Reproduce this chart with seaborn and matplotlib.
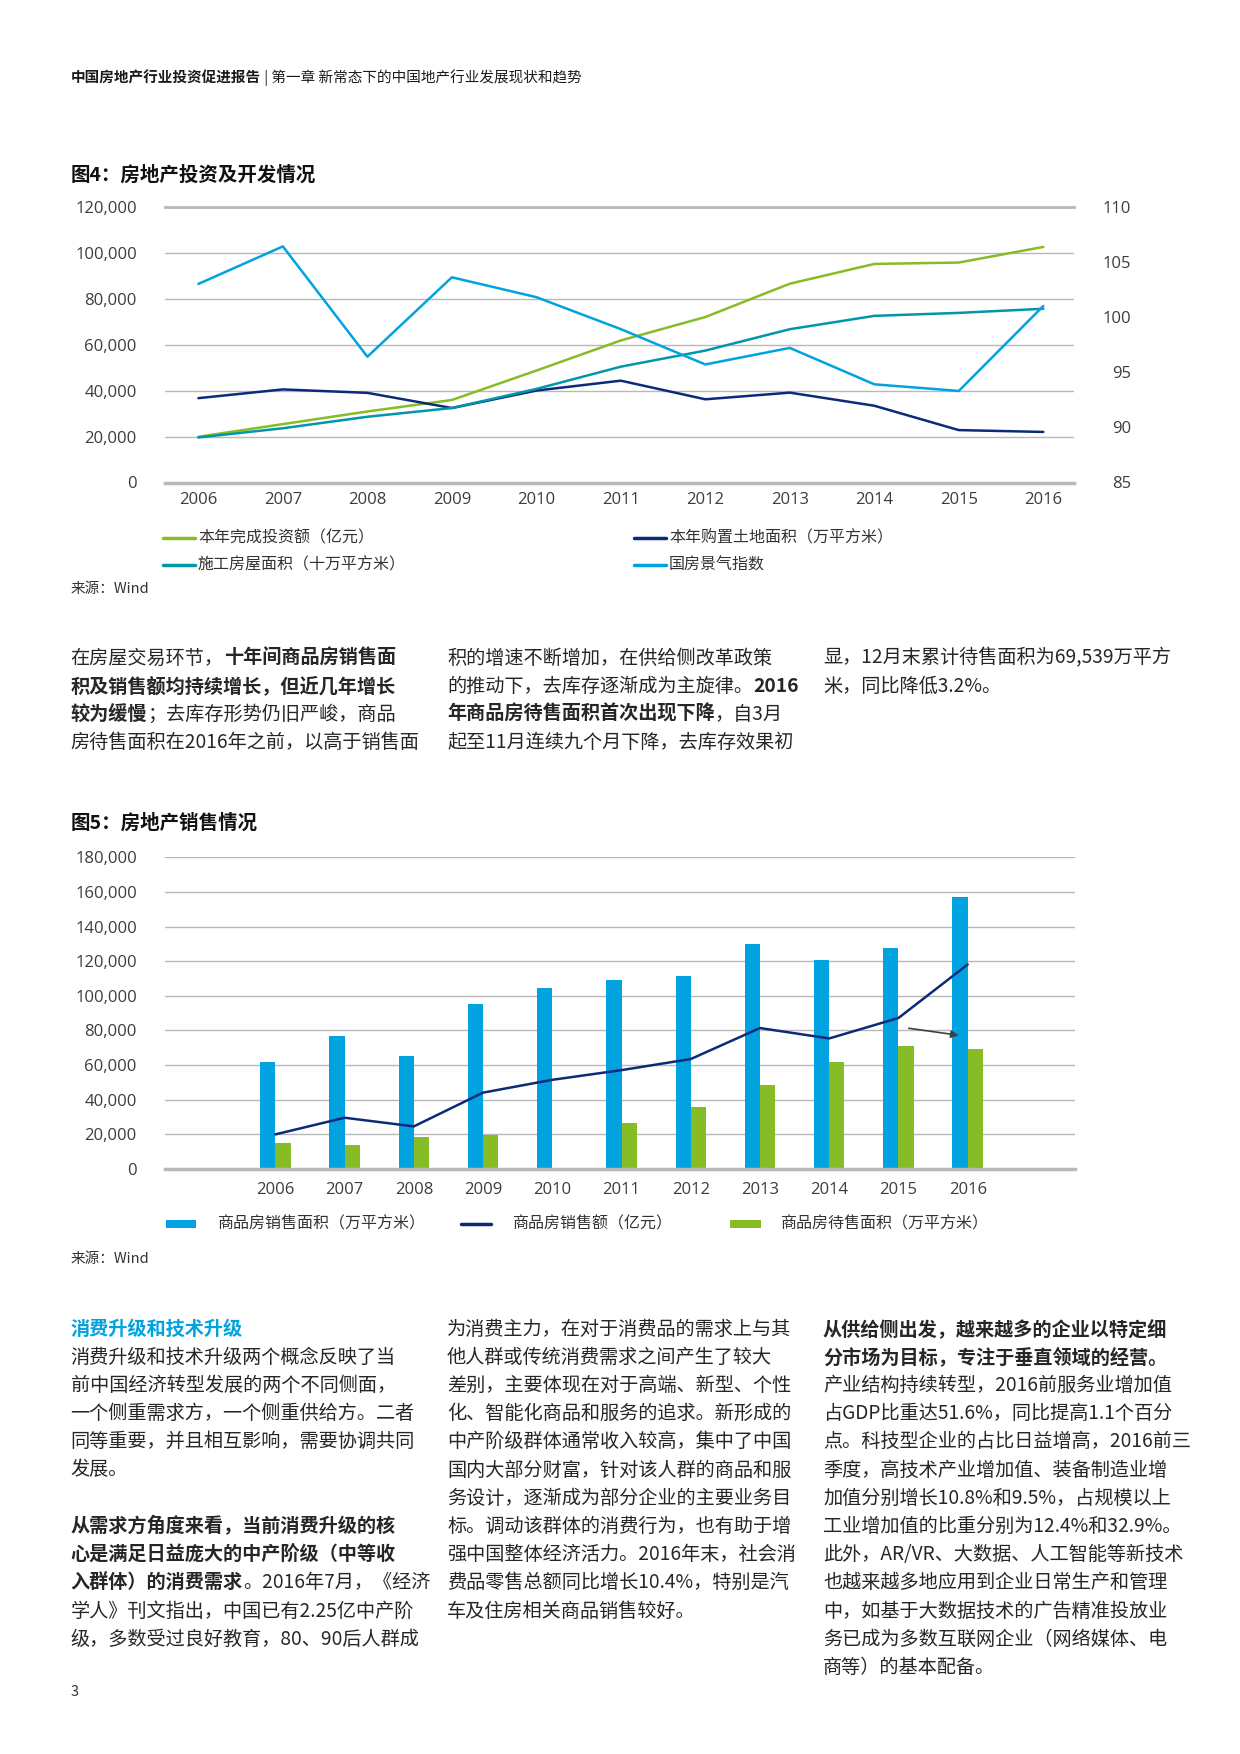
import numpy as np
import pandas as pd
import matplotlib
matplotlib.use("Agg")
import matplotlib.pyplot as plt
import seaborn as sns
from matplotlib.lines import Line2D
from matplotlib.patches import Rectangle
from matplotlib.ticker import FuncFormatter

# ---- data ----
years = list(range(2006, 2017))

# Figure 4 (left axis)
invest = [19900, 25400, 30900, 35900, 48700, 61800, 72000, 86500, 95100, 95700, 102500]
land = [36700, 40500, 39000, 32400, 40000, 44300, 36200, 39100, 33400, 22800, 22000]
construct = [19600, 23600, 28600, 32400, 40700, 50400, 57400, 66700, 72500, 73800, 75600]
# Figure 4 (right axis)
climate = [103.0, 106.4, 96.4, 103.6, 101.8, 98.9, 95.7, 97.2, 93.9, 93.3, 101.0]

# Figure 5
sales_area = [61900, 77000, 65400, 95000, 104300, 108900, 111200, 129800, 120500, 127500, 157000]
sales_amount = [20000, 29600, 24600, 44100, 51500, 57100, 63500, 81400, 75400, 87200, 118100]
unsold_area = [14900, 13800, 18300, 19400, np.nan, 26600, 35700, 48600, 61900, 71200, 69500]

fig4_labels = ["本年完成投资额（亿元）", "本年购置土地面积（万平方米）",
               "施工房屋面积（十万平方米）", "国房景气指数"]
fig5_labels = ["商品房销售面积（万平方米）", "商品房销售额（亿元）", "商品房待售面积（万平方米）"]

# colours
GREEN = "#86bc25"
NAVY = "#0b2a78"
TEAL = "#0097a9"
BLUE = "#00a3e0"
GRID = "#b8b8b8"
TICK = "#3c3c3c"
TEXT = "#262626"

sns.set_theme(style="white")
plt.rcParams["font.family"] = ["Noto Sans CJK SC", "DejaVu Sans"]

W, H = 1240, 1754
fig = plt.figure(figsize=(W / 100, H / 100), dpi=100)
rend = fig.canvas.get_renderer()


def box(l, t, r, b):
    # pixel box (from top-left) -> figure fraction rect
    return [l / W, 1 - b / H, (r - l) / W, (b - t) / H]


def put(x, y, runs, size=13.8, color=TEXT):
    # draw a line made of (text, bold) runs one after another
    for s, bold in runs:
        t = fig.text(x / W, 1 - y / H, s, fontsize=size, color=color,
                     fontweight="bold" if bold else "normal", va="center", ha="left")
        x += t.get_window_extent(rend).width


def leg_line(x0, x1, y, color, lw=2.5):
    fig.add_artist(Line2D([x0 / W, x1 / W], [1 - y / H, 1 - y / H], color=color, lw=lw,
                          transform=fig.transFigure))


def leg_rect(x0, x1, y, h, color):
    fig.add_artist(Rectangle((x0 / W, 1 - (y + h / 2) / H), (x1 - x0) / W, h / H,
                             color=color, lw=0, transform=fig.transFigure))


comma = FuncFormatter(lambda v, p: f"{v:,.0f}")

# ---- header ----
put(70.6, 78, [("中国房地产行业投资促进报告", True), (" | 第一章 新常态下的中国地产行业发展现状和趋势", False)],
    size=10.5, color="#1a1a1a")

# ---- Figure 4 ----
put(70.6, 175, [("图4：房地产投资及开发情况", True)], size=14, color="#111111")

ax4 = fig.add_axes(box(164.6, 206.7, 1074.3, 482.5))
df4 = pd.DataFrame({"年份": years, "invest": invest, "land": land, "construct": construct,
                    "climate": climate})
sns.lineplot(data=df4, x="年份", y="invest", color=GREEN, lw=1.8, ax=ax4)
sns.lineplot(data=df4, x="年份", y="land", color=NAVY, lw=1.8, ax=ax4)
sns.lineplot(data=df4, x="年份", y="construct", color=TEAL, lw=1.8, ax=ax4)
ax4r = ax4.twinx()
sns.lineplot(data=df4, x="年份", y="climate", color=BLUE, lw=1.8, ax=ax4r)

ax4.set_xlim(2006 - 0.40, 2016 + 0.367)
ax4.set_ylim(0, 120000)
ax4.set_yticks(range(0, 120001, 20000))
ax4.yaxis.set_major_formatter(comma)
ax4.set_xticks(years)
ax4.set_xticklabels([str(y) for y in years])
ax4r.set_ylim(85, 110)
ax4r.set_yticks(range(85, 111, 5))
for a in (ax4, ax4r):
    a.set_xlabel("")
    a.set_ylabel("")
ax4.grid(axis="y", color=GRID, lw=1)
ax4.set_axisbelow(True)
for s in ["left", "right"]:
    ax4.spines[s].set_visible(False)
ax4.spines["top"].set_color(GRID)
ax4.spines["top"].set_linewidth(2)
ax4.spines["bottom"].set_color(GRID)
ax4.spines["bottom"].set_linewidth(2.5)
for s in ax4r.spines.values():
    s.set_visible(False)
ax4.tick_params(axis="y", length=0, pad=20, labelsize=12, labelcolor=TICK, labelfontfamily="Open Sans")
ax4.tick_params(axis="x", length=0, pad=7, labelsize=12, labelcolor=TICK, labelfontfamily="Open Sans")
ax4r.tick_params(axis="y", length=0, pad=41, labelsize=12, labelcolor=TICK, labelfontfamily="Open Sans")
for lbl in ax4r.get_yticklabels():
    lbl.set_horizontalalignment("right")

# legend of figure 4
leg4 = [(163, 195, 198, 538, GREEN, fig4_labels[0]), (634, 666, 669, 538, NAVY, fig4_labels[1]),
        (163, 195, 198, 565, TEAL, fig4_labels[2]), (634, 666, 669, 565, BLUE, fig4_labels[3])]
for x0, x1, xt, y, c, lab in leg4:
    leg_line(x0, x1, y, c)
    put(xt, y, [(lab, False)], size=11.5, color="#333333")
put(70.6, 589, [("来源：Wind", False)], size=10.5, color="#333333")

# ---- text block 1 ----
col_x = [70.6, 447, 823]
block1 = [
    [[("在房屋交易环节，", False), ("十年间商品房销售面", True)],
     [("积及销售额均持续增长，但近几年增长", True)],
     [("较为缓慢", True), ("；去库存形势仍旧严峻，商品", False)],
     [("房待售面积在2016年之前，以高于销售面", False)]],
    [[("积的增速不断增加，在供给侧改革政策", False)],
     [("的推动下，去库存逐渐成为主旋律。", False), ("2016", True)],
     [("年商品房待售面积首次出现下降", True), ("，自3月", False)],
     [("起至11月连续九个月下降，去库存效果初", False)]],
    [[("显，12月末累计待售面积为69,539万平方", False)],
     [("米，同比降低3.2%。", False)]],
]
for cx, lines in zip(col_x, block1):
    for i, runs in enumerate(lines):
        put(cx, 658 + i * 28.2, runs)

# ---- Figure 5 ----
put(70.6, 823, [("图5：房地产销售情况", True)], size=14, color="#111111")

ax5 = fig.add_axes(box(164.6, 857.3, 1075, 1169))
df5 = pd.DataFrame({"年份": years * 2,
                    "指标": [fig5_labels[0]] * 11 + [fig5_labels[2]] * 11,
                    "值": sales_area + unsold_area}).dropna()
sns.barplot(data=df5, x="年份", y="值", hue="指标", hue_order=[fig5_labels[0], fig5_labels[2]],
            palette=[BLUE, GREEN], native_scale=True, width=0.44, saturation=1,
            errorbar=None, linewidth=0, legend=False, ax=ax5)
sns.lineplot(x=years, y=sales_amount, color=NAVY, lw=1.8, ax=ax5)
ax5.annotate("", xy=(2015.91, 77000), xytext=(2015.11, 81500),
             arrowprops=dict(arrowstyle="-|>", color="#404040", lw=1.2, mutation_scale=11))

ax5.set_xlim(2006 - 1.60, 2016 + 1.55)
ax5.set_ylim(0, 180000)
ax5.set_yticks(range(0, 180001, 20000))
ax5.yaxis.set_major_formatter(comma)
ax5.set_xticks(years)
ax5.set_xticklabels([str(y) for y in years])
ax5.set_xlabel("")
ax5.set_ylabel("")
ax5.grid(axis="y", color=GRID, lw=1)
ax5.grid(axis="x", visible=False)
ax5.set_axisbelow(True)
for s in ["left", "right", "top"]:
    ax5.spines[s].set_visible(False)
ax5.spines["bottom"].set_color(GRID)
ax5.spines["bottom"].set_linewidth(2.5)
ax5.tick_params(axis="y", length=0, pad=20, labelsize=12, labelcolor=TICK, labelfontfamily="Open Sans")
ax5.tick_params(axis="x", length=0, pad=9, labelsize=12, labelcolor=TICK, labelfontfamily="Open Sans")

# legend of figure 5
leg_rect(166, 196, 1224, 8, BLUE)
put(217, 1224, [(fig5_labels[0], False)], size=11.5, color="#333333")
leg_line(461, 491, 1224, NAVY)
put(512, 1224, [(fig5_labels[1], False)], size=11.5, color="#333333")
leg_rect(730, 761, 1224, 8, GREEN)
put(780, 1224, [(fig5_labels[2], False)], size=11.5, color="#333333")
put(70.6, 1259, [("来源：Wind", False)], size=10.5, color="#333333")

# ---- text block 2 ----
put(70.6, 1329, [("消费升级和技术升级", True)], color=BLUE)
col1 = [
    [("消费升级和技术升级两个概念反映了当", False)],
    [("前中国经济转型发展的两个不同侧面，", False)],
    [("一个侧重需求方，一个侧重供给方。二者", False)],
    [("同等重要，并且相互影响，需要协调共同", False)],
    [("发展。", False)],
    [],
    [("从需求方角度来看，当前消费升级的核", True)],
    [("心是满足日益庞大的中产阶级（中等收", True)],
    [("入群体）的消费需求", True), ("。2016年7月，《经济", False)],
    [("学人》刊文指出，中国已有2.25亿中产阶", False)],
    [("级，多数受过良好教育，80、90后人群成", False)],
]
col2 = [
    [("为消费主力，在对于消费品的需求上与其", False)],
    [("他人群或传统消费需求之间产生了较大", False)],
    [("差别，主要体现在对于高端、新型、个性", False)],
    [("化、智能化商品和服务的追求。新形成的", False)],
    [("中产阶级群体通常收入较高，集中了中国", False)],
    [("国内大部分财富，针对该人群的商品和服", False)],
    [("务设计，逐渐成为部分企业的主要业务目", False)],
    [("标。调动该群体的消费行为，也有助于增", False)],
    [("强中国整体经济活力。2016年末，社会消", False)],
    [("费品零售总额同比增长10.4%，特别是汽", False)],
    [("车及住房相关商品销售较好。", False)],
]
col3 = [
    [("从供给侧出发，越来越多的企业以特定细", True)],
    [("分市场为目标，专注于垂直领域的经营。", True)],
    [("产业结构持续转型，2016前服务业增加值", False)],
    [("占GDP比重达51.6%，同比提高1.1个百分", False)],
    [("点。科技型企业的占比日益增高，2016前三", False)],
    [("季度，高技术产业增加值、装备制造业增", False)],
    [("加值分别增长10.8%和9.5%，占规模以上", False)],
    [("工业增加值的比重分别为12.4%和32.9%。", False)],
    [("此外，AR/VR、大数据、人工智能等新技术", False)],
    [("也越来越多地应用到企业日常生产和管理", False)],
    [("中，如基于大数据技术的广告精准投放业", False)],
    [("务已成为多数互联网企业（网络媒体、电", False)],
    [("商等）的基本配备。", False)],
]
for i, runs in enumerate(col1):
    put(70.6, 1329 + (i + 1) * 28.2, runs)
for i, runs in enumerate(col2):
    put(447, 1329 + i * 28.2, runs)
for i, runs in enumerate(col3):
    put(823, 1329 + i * 28.2, runs)

# page number
put(70.6, 1692, [("3", False)], size=10.5, color="#333333")

fig.savefig("out.png", dpi=100)
